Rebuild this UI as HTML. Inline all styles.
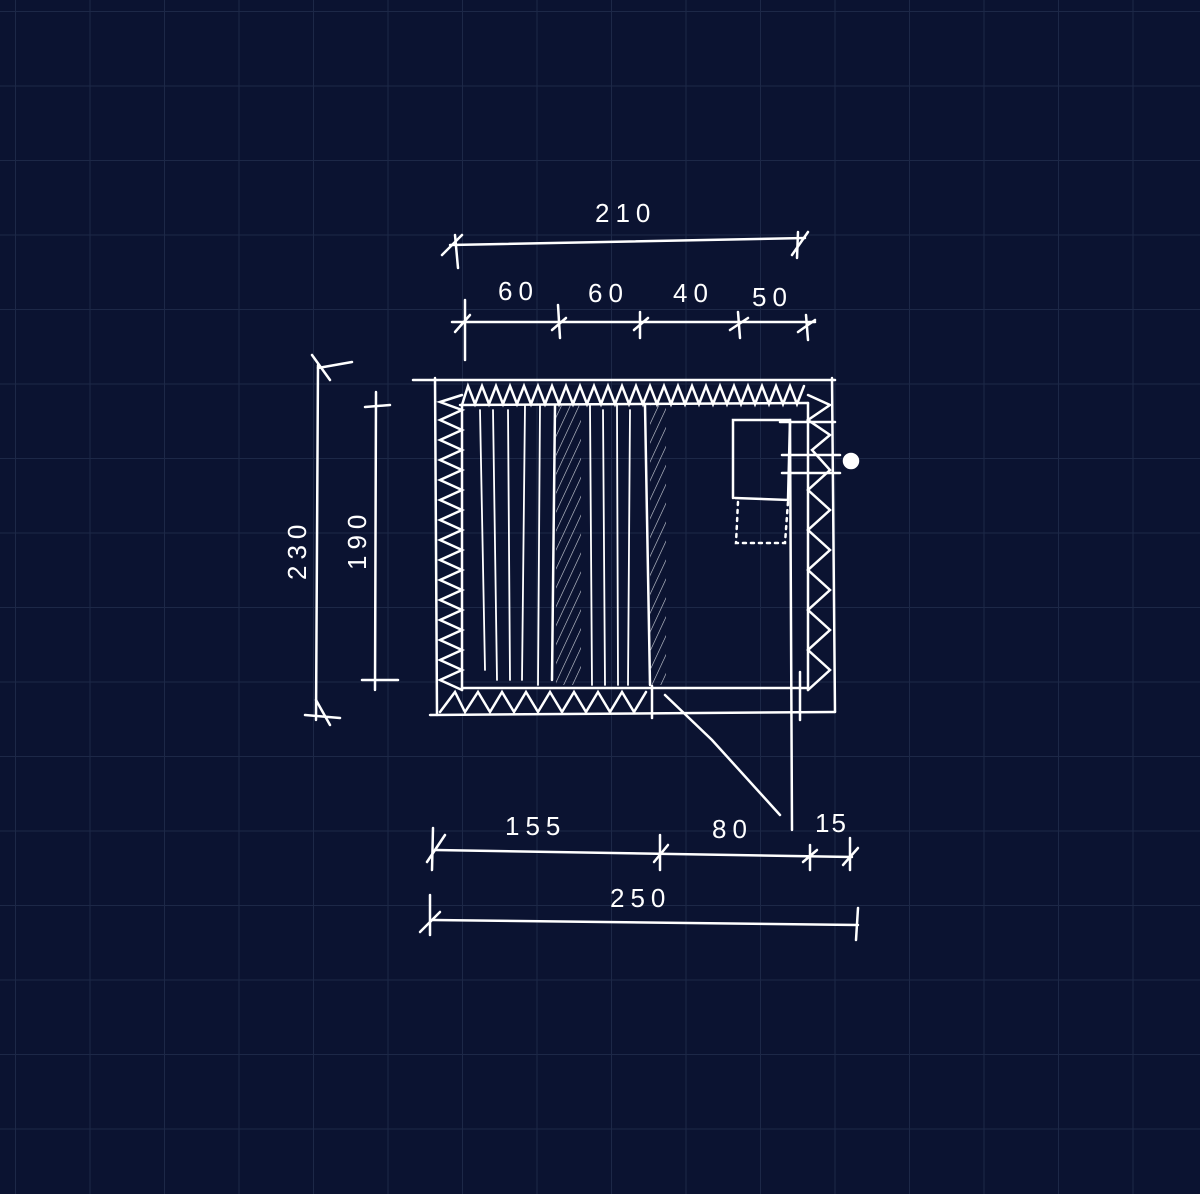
<!DOCTYPE html>
<html><head><style>
html,body{margin:0;padding:0;background:#0b1331;}
svg{display:block}
text{font-family:"Liberation Sans",sans-serif;fill:#fff;font-size:26px;letter-spacing:6px}
</style></head><body>
<svg width="1200" height="1194" viewBox="0 0 1200 1194" xmlns="http://www.w3.org/2000/svg">
<defs>
<pattern id="g" x="15" y="11" width="74.5" height="74.5" patternUnits="userSpaceOnUse">
<path d="M0 0H74.5M0 0V74.5" stroke="#1d2847" stroke-width="2" fill="none"/>
</pattern>
<pattern id="h" width="8" height="8" patternUnits="userSpaceOnUse" patternTransform="rotate(25)">
<line x1="0" y1="0" x2="0" y2="8" stroke="#cfd3dc" stroke-width="1.2"/>
</pattern>
</defs>
<rect width="1200" height="1194" fill="#0b1331"/>
<rect width="1200" height="1194" fill="url(#g)"/>
<g stroke="#fff" stroke-width="2.5" fill="none" stroke-linecap="round">
<!-- walls -->
<path d="M413 380 L835 380"/><path d="M435 378 L437 715"/><path d="M430 715 L835 712"/><path d="M832 378 L835 712"/>
<path d="M460 405 L808 403"/><path d="M462 405 L462 690"/><path d="M462 688 L808 688"/><path d="M808 403 L808 690"/>
<!-- top zigzag -->
<path d="M462 405 L468 386 L475 404 L482 386 L489 404 L496 386 L503 404 L510 386 L517 404 L524 386 L531 404 L538 386 L545 404 L552 386 L559 404 L566 386 L573 404 L580 386 L587 404 L594 386 L601 404 L608 386 L615 404 L622 386 L629 404 L636 386 L643 404 L650 386 L657 404 L664 386 L671 404 L678 386 L685 404 L692 386 L699 404 L706 386 L713 404 L720 386 L727 404 L734 386 L741 404 L748 386 L755 404 L762 386 L769 404 L776 386 L783 404 L790 386 L797 404 L804 386"/>
<!-- left zigzag -->
<path d="M462 395 L440 402 L462 410 L440 420 L462 430 L440 440 L462 450 L440 460 L462 470 L440 480 L462 490 L440 500 L462 510 L440 520 L462 530 L440 540 L462 550 L440 560 L462 570 L440 580 L462 590 L440 600 L462 610 L440 620 L462 630 L440 640 L462 650 L440 660 L462 670 L440 680 L462 690"/>
<!-- right zigzag -->
<path d="M808 395 L830 405 L808 420 L830 435 L812 450 L830 470 L808 490 L830 510 L808 530 L830 550 L808 570 L830 590 L808 610 L830 630 L808 650 L830 670 L808 690"/>
<!-- bottom zigzag -->
<path d="M440 712 L455 692 L465 712 L478 692 L490 712 L502 692 L514 712 L526 692 L538 712 L550 692 L562 712 L574 692 L586 712 L598 692 L610 712 L622 692 L634 712 L646 692"/>
<path d="M652 686 L652 718"/>
<!-- lines -->
<g stroke-width="1.8">
<path d="M480 410 L485 670"/><path d="M493 410 L497 680"/><path d="M508 410 L510 680"/><path d="M525 405 L522 680"/><path d="M540 405 L538 685"/>
<path d="M590 405 L592 685"/><path d="M603 410 L605 685"/><path d="M617 405 L618 685"/><path d="M630 410 L628 685"/>
</g>
<path d="M555 405 L552 680" /><path d="M645 405 L650 685"/>
<rect x="556" y="405" width="25" height="280" fill="url(#h)" stroke="none"/>
<rect x="650" y="405" width="16" height="280" fill="url(#h)" stroke="none"/>
<!-- toilet -->
<path d="M733 498 L733 420 L790 420 L788 500 L735 498"/>
<path d="M738 502 L736 543 L785 543 L788 502" stroke-dasharray="3 5"/>
<path d="M780 422 L835 422"/><path d="M782 455 L840 455"/><path d="M782 473 L840 473"/>
<circle cx="851" cy="461" r="7" fill="#fff"/>
<path d="M790 420 L792 830"/>
<!-- door -->
<path d="M665 695 L712 740 L780 815"/>
<path d="M800 672 L800 720"/>
<!-- top dim 210 -->
<path d="M450 245 L805 238"/><path d="M442 255 L462 235"/><path d="M455 235 L458 268"/><path d="M792 255 L808 232"/><path d="M798 232 L797 258"/>
<!-- dim row 2 -->
<path d="M452 322 L815 322"/><path d="M465 300 L465 360"/>
<path d="M455 332 L470 315"/><path d="M558 305 L560 338"/><path d="M552 330 L566 318"/><path d="M640 312 L640 338"/><path d="M634 330 L648 318"/><path d="M738 312 L740 338"/><path d="M730 330 L748 318"/><path d="M806 315 L808 340"/><path d="M798 332 L815 320"/>
<!-- left 230 -->
<path d="M318 365 L316 720"/><path d="M312 355 L330 380"/><path d="M318 368 L352 362"/><path d="M305 715 L340 718"/><path d="M316 700 L330 725"/>
<!-- 190 -->
<path d="M376 392 L375 690"/><path d="M365 407 L390 405"/><path d="M362 680 L398 680"/>
<!-- bottom 155/80/15 -->
<path d="M435 850 L852 857"/><path d="M433 828 L432 870"/><path d="M427 862 L445 835"/><path d="M660 835 L660 870"/><path d="M654 862 L668 845"/><path d="M810 845 L810 870"/><path d="M803 862 L817 850"/><path d="M850 838 L850 870"/><path d="M843 865 L858 848"/>
<!-- 250 -->
<path d="M432 920 L858 925"/><path d="M430 895 L430 935"/><path d="M420 932 L440 912"/><path d="M858 908 L856 940"/>
</g>
<text x="595" y="222">210</text>
<text x="498" y="300">60</text>
<text x="588" y="302">60</text>
<text x="673" y="302">40</text>
<text x="752" y="306">50</text>
<text x="505" y="835">155</text>
<text x="712" y="838">80</text>
<text x="815" y="832" style="letter-spacing:2px">15</text>
<text x="610" y="907">250</text>
<text transform="translate(306 580) rotate(-90)">230</text>
<text transform="translate(366 570) rotate(-90)">190</text>
</svg>
</body></html>
